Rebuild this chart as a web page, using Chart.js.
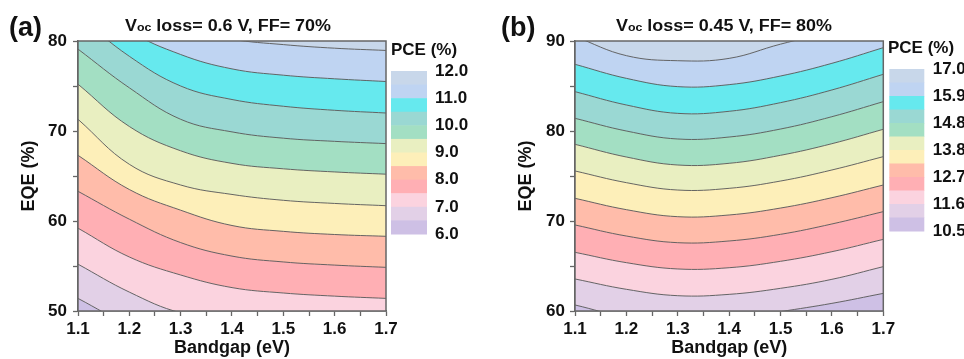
<!DOCTYPE html>
<html>
<head>
<meta charset="utf-8">
<script src="https://cdn.jsdelivr.net/npm/chart.js@4"></script>
<style>
  html, body { margin: 0; padding: 0; background: #fff; }
  body { width: 964px; height: 359px; position: relative; overflow: hidden;
         font-family: "Liberation Sans", Arial, sans-serif; color: #111; }
  canvas { position: absolute; top: 0; }
  #chartA { left: 0; }
  #chartB { left: 480px; }
  .panel { position: absolute; top: 14px; font-weight: bold; font-size: 27px; line-height: 27px; }
  .title { position: absolute; top: 18px; font-weight: bold; font-size: 16px; line-height: 16px;
           white-space: nowrap; transform: translateX(-50%) scaleX(1.12); }
  .title span { font-size: 11px; }
</style>
</head>
<body>
<canvas id="chartA" width="480" height="359"></canvas>
<canvas id="chartB" width="484" height="359"></canvas>
<div class="panel" style="left:9px">(a)</div>
<div class="panel" style="left:501px">(b)</div>
<div class="title" style="left:228px">V<span>oc</span> loss= 0.6 V, FF= 70%</div>
<div class="title" style="left:724px">V<span>oc</span> loss= 0.45 V, FF= 80%</div>
<script>
Chart.defaults.font.family = '"Liberation Sans", Arial, sans-serif';
Chart.defaults.color = '#111';

// bandgap (eV) where each contour's EQE was read
const bandgap = [1.1, 1.2, 1.3, 1.4, 1.5, 1.6, 1.7];

// (a) Voc loss 0.6 V, FF 70% : EQE (%) along each PCE contour
const a6_5  = [51.4, 48.4, 46.3, 45.6, 45.0, 44.65, 44.4];
const a7_0  = [55.2, 52.1, 49.8, 49.1, 48.5, 48.15, 47.9];
const a7_5  = [59.2, 56.0, 54.0, 52.6, 52.0, 51.65, 51.4];
const a8_0  = [63.3, 60.2, 57.6, 56.1, 55.45, 55.1, 54.85];
const a8_5  = [67.3, 63.5, 61.2, 59.5, 58.85, 58.5, 58.3];
const a9_0  = [71.3, 66.3, 64.0, 62.95, 62.3, 61.95, 61.7];
const a9_5  = [75.2, 70.5, 67.8, 66.4, 65.8, 65.45, 65.2];
const a10_0 = [79.1, 74.8, 71.3, 69.9, 69.2, 68.85, 68.6];
const a10_5 = [82.8, 78.3, 75.0, 73.5, 72.75, 72.3, 72.0];
const a11_0 = [86.0, 81.2, 78.5, 76.9, 76.2, 75.8, 75.5];
const a11_5 = [88.0, 84.0, 81.5, 80.2, 79.6, 79.2, 78.95];

// (b) Voc loss 0.45 V, FF 80%
const b11_0 = [60.67, 59.33, 58.89, 59.04, 59.93, 60.85, 61.96];
const b11_6 = [63.56, 62.41, 61.70, 61.85, 62.52, 63.52, 64.93];
const b12_1 = [66.52, 65.37, 64.67, 64.81, 65.52, 66.59, 67.96];
const b12_7 = [69.56, 68.33, 67.59, 67.78, 68.52, 69.67, 71.04];
const b13_2 = [72.52, 71.26, 70.48, 70.67, 71.44, 72.59, 74.0];
const b13_8 = [75.56, 74.26, 73.44, 73.63, 74.44, 75.67, 77.15];
const b14_3 = [78.52, 77.11, 76.22, 76.41, 77.30, 78.59, 80.19];
const b14_8 = [81.41, 80.0, 79.11, 79.33, 80.22, 81.59, 83.26];
const b15_4 = [84.37, 82.89, 81.96, 82.19, 83.15, 84.56, 86.30];
const b15_9 = [87.41, 85.85, 84.93, 85.15, 86.11, 87.52, 89.26];
const b16_5 = [90.5, 88.37, 87.81, 88.07, 89.65, 91.0, 92.1];

// colour bar tick labels, top to bottom
const cbarLabelsA = ['12.0', '11.0', '10.0', '9.0', '8.0', '7.0', '6.0'];
const cbarLabelsB = ['17.0', '15.9', '14.8', '13.8', '12.7', '11.6', '10.5'];

// band colours, highest PCE band first
const bandColors = ['#c8d7ea', '#bfd4f2', '#66e9ee', '#9ad8d3', '#a3dfc3', '#e9efc1',
                    '#fdefb9', '#ffbcaa', '#ffafb4', '#fbd3df', '#e2d0e7', '#cec0e5'];

const FONT = '"Liberation Sans", Arial, sans-serif';

// one dataset per contour (low -> high), each filling down to the previous one
function contourSets(contours) {
  const n = bandColors.length;
  const sets = contours.map((eqe, i) => ({
    data: bandgap.map((x, j) => ({ x, y: eqe[j] })),
    borderColor: '#555',
    borderWidth: 0.9,
    pointRadius: 0,
    tension: 0.4,
    fill: i === 0 ? 'start' : '-1',
    backgroundColor: bandColors[n - 1 - i]
  }));
  const top = contours[contours.length - 1];
  sets.push({
    data: bandgap.map((x, j) => ({ x, y: top[j] })),
    borderWidth: 0,
    pointRadius: 0,
    tension: 0.4,
    fill: 'end',
    backgroundColor: bandColors[0]
  });
  return sets;
}

const frame = {
  id: 'frame',
  afterDatasetsDraw(chart) {
    const { ctx, chartArea: a } = chart;
    ctx.save();
    ctx.strokeStyle = '#666';
    ctx.lineWidth = 1.5;
    ctx.strokeRect(a.left, a.top, a.right - a.left, a.bottom - a.top);
    ctx.restore();
  }
};

function colorbar(cfg) {
  return {
    id: 'colorbar',
    afterDraw(chart) {
      const { ctx, chartArea } = chart;
      const x = chartArea.right + cfg.gap;
      const h = (cfg.bottom - cfg.top) / bandColors.length;
      ctx.save();
      bandColors.forEach((c, i) => {
        ctx.fillStyle = c;
        ctx.fillRect(x, cfg.top + i * h, cfg.width, h + 0.5);
      });
      ctx.fillStyle = '#111';
      ctx.font = 'bold 17px ' + FONT;
      ctx.textBaseline = 'middle';
      ctx.textAlign = 'left';
      ctx.fillText('PCE (%)', x + cfg.titleDx, cfg.titleY);
      cfg.labels.forEach((t, i) => ctx.fillText(t, x + cfg.labelGap, cfg.top + 2 * i * h));
      ctx.restore();
    }
  };
}

function makeChart(id, contours, yMin, yMax, yWidth, yTitlePad, yTickPad, rightPad, cbar) {
  return new Chart(document.getElementById(id), {
    type: 'line',
    data: { datasets: contourSets(contours) },
    plugins: [frame, colorbar(cbar)],
    options: {
      responsive: false,
      animation: false,
      layout: { padding: { left: 0, top: 41, right: rightPad, bottom: 0 } },
      plugins: { legend: { display: false }, tooltip: { enabled: false } },
      scales: {
        x: {
          type: 'linear', min: 1.1, max: 1.7,
          afterFit: s => { s.height = 48; },
          ticks: {
            stepSize: 0.05, autoSkip: false, maxRotation: 0, padding: 3,
            font: { size: 17, weight: 'bold' },
            callback: v => Math.abs(v * 10 - Math.round(v * 10)) < 1e-6 ? v.toFixed(1) : ''
          },
          grid: { drawOnChartArea: false, tickLength: 5, tickColor: '#666', tickWidth: 1.3 },
          border: { color: '#666', width: 1.5 },
          title: { display: true, text: 'Bandgap (eV)', font: { size: 18, weight: 'bold' },
                   padding: { top: 0, bottom: 0 } }
        },
        y: {
          min: yMin, max: yMax,
          afterFit: s => { s.width = yWidth; },
          ticks: {
            stepSize: 5, padding: yTickPad,
            font: { size: 17, weight: 'bold' },
            callback: v => v % 10 === 0 ? v : ''
          },
          grid: { drawOnChartArea: false, tickLength: 5, tickColor: '#666', tickWidth: 1.3 },
          border: { color: '#666', width: 1.5 },
          title: { display: true, text: 'EQE (%)', font: { size: 18, weight: 'bold' },
                   padding: { top: yTitlePad, bottom: 0 } }
        }
      }
    }
  });
}

makeChart('chartA', [a6_5, a7_0, a7_5, a8_0, a8_5, a9_0, a9_5, a10_0, a10_5, a11_0, a11_5],
  50, 80, 78, 18.5, 6, 94,
  { gap: 5, width: 36, top: 71, bottom: 234, labelGap: 44, titleDx: 0, titleY: 50.5, labels: cbarLabelsA });

makeChart('chartB', [b11_0, b11_6, b12_1, b12_7, b13_2, b13_8, b14_3, b14_8, b15_4, b15_9, b16_5],
  60, 90, 95, 35.5, 5, 80.7,
  { gap: 6, width: 35, top: 69, bottom: 231, labelGap: 43.4, titleDx: -1.3, titleY: 48, labels: cbarLabelsB });
</script>
</body>
</html>
